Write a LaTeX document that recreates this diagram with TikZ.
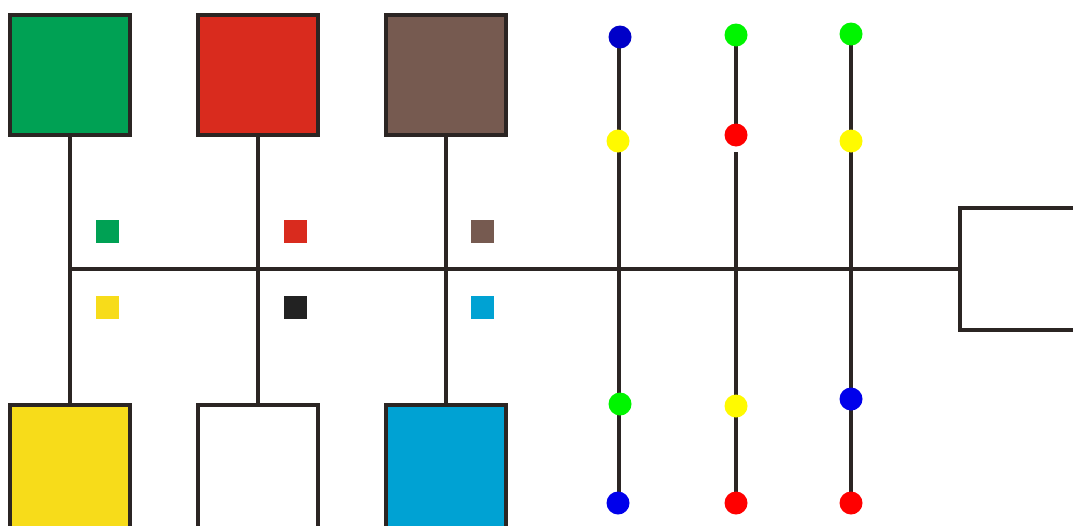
\documentclass[tikz,border=0pt]{standalone}
\usetikzlibrary{backgrounds}
\definecolor{lnc}{RGB}{43,37,35}
\definecolor{sqgreen}{RGB}{0,161,84}
\definecolor{sqred}{RGB}{217,43,30}
\definecolor{sqbrown}{RGB}{118,90,80}
\definecolor{sqyellow}{RGB}{247,220,26}
\definecolor{sqcyan}{RGB}{0,162,211}
\definecolor{sqblack}{RGB}{34,34,34}
\definecolor{dblue}{RGB}{0,0,235}
\definecolor{dblueD}{RGB}{0,0,200}
\definecolor{dgreen}{RGB}{0,245,0}
\definecolor{dyellow}{RGB}{255,250,0}
\definecolor{dred}{RGB}{255,0,0}
\tikzset{
  bigsq/.style={draw=lnc, line width=4pt, minimum size=120pt, inner sep=0pt, outer sep=0pt},
  lowsq/.style={bigsq, minimum height=134pt},
  smallsq/.style={minimum size=23pt, inner sep=0pt, outer sep=0pt},
  dot/.style={circle, minimum size=23pt, inner sep=0pt, outer sep=0pt},
  wire/.style={draw=lnc, line width=4pt}
}
\begin{document}
\begin{tikzpicture}[x=1pt,y=-1pt]
\useasboundingbox (0,0) rectangle (1073,525);
\begin{pgfonlayer}{background}
\fill[white] (0,0) rectangle (1073,525);
\end{pgfonlayer}
% big squares
\node[bigsq, fill=sqgreen]  (tg) at (69.5,75) {};
\node[bigsq, fill=sqred]    (tr) at (257.5,75) {};
\node[bigsq, fill=sqbrown]  (tb) at (445.5,75) {};
\node[lowsq, fill=sqyellow] (bg) at (69.5,472) {};
\node[lowsq, fill=white]    (bw) at (257.5,472) {};
\node[lowsq, fill=sqcyan]   (bc) at (445.5,472) {};
% right box
\node[draw=lnc, line width=4pt, minimum width=130pt, minimum height=122pt, inner sep=0pt, outer sep=0pt] (rb) at (1025,269) {};
% small squares
\node[smallsq, fill=sqgreen]  (sg) at (107.5,231.5) {};
\node[smallsq, fill=sqred]    (sr) at (295.5,231.5) {};
\node[smallsq, fill=sqbrown]  (sb) at (482.5,231.5) {};
\node[smallsq, fill=sqyellow] (sy) at (107.5,307.5) {};
\node[smallsq, fill=sqblack]  (sk) at (295.5,307.5) {};
\node[smallsq, fill=sqcyan]   (sc) at (482.5,307.5) {};
% dots
\node[dot, fill=dblueD]  (a1) at (620,37) {};
\node[dot, fill=dyellow] (a2) at (618,141) {};
\node[dot, fill=dgreen]  (a3) at (620,404) {};
\node[dot, fill=dblue]   (a4) at (618,503) {};
\node[dot, fill=dgreen]  (b1) at (736,35) {};
\node[dot, fill=dred]    (b2) at (736,135) {};
\node[dot, fill=dyellow] (b3) at (736,406) {};
\node[dot, fill=dred]    (b4) at (736,503) {};
\node[dot, fill=dgreen]  (c1) at (851,34) {};
\node[dot, fill=dyellow] (c2) at (851,141) {};
\node[dot, fill=dblue]   (c3) at (851,399) {};
\node[dot, fill=dred]    (c4) at (851,503) {};
\coordinate (j0) at (69.5,269);
\coordinate (b2s) at (736,152);
% connectors
\draw[wire] (tg.south) -- (bg.north);
\draw[wire] (tr.south) -- (bw.north);
\draw[wire] (tb.south) -- (bc.north);
\draw[wire] (j0) -- (rb.west);
\begin{pgfonlayer}{background}
\draw[wire] (619,37) -- (619,503);
\draw[wire] (b1.center) -- (b2.center);
\draw[wire] (b2s) -- (b4.center);
\draw[wire] (c1.center) -- (c4.center);
\end{pgfonlayer}
\end{tikzpicture}
\end{document}
